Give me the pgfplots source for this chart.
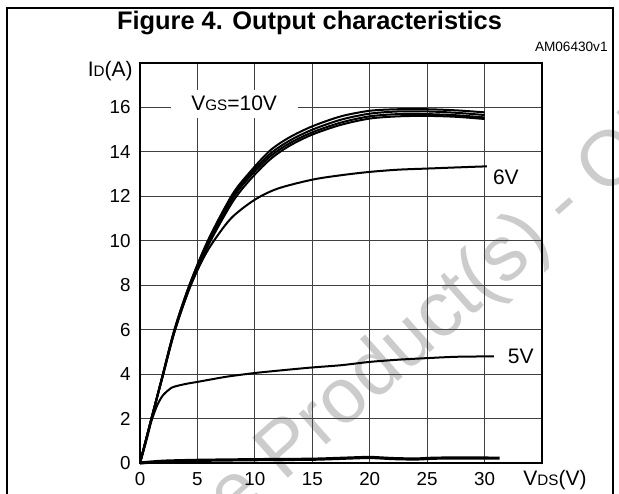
\documentclass[border=0pt]{standalone}
\usepackage{pgfplots}
\pgfplotsset{compat=1.18}
\usepackage{fontspec}
\setmainfont{Liberation Sans}
\newcommand\sub[1]{{\fontsize{7.6pt}{8pt}\selectfont #1}}
\begin{document}
\begin{tikzpicture}[x=1pt,y=1pt]
\useasboundingbox (0,0) rectangle (309.5,246.5);
% watermark
\begin{scope}
\clip (0,0) rectangle (309.5,246.5);
\node[rotate=41.5, anchor=base west, inner sep=0pt, text=black!20,
  font=\fontsize{39pt}{42pt}\selectfont] at (16.5,-105.6) {Obsolete Product(s) - Obsolete Product(s)};
\end{scope}
% frame
\draw[line width=1pt] (3.5,-2) -- (3.5,242.5) -- (306.5,242.5) -- (306.5,-2);
\node[anchor=base, inner sep=0pt, font=\fontsize{12.7pt}{14pt}\selectfont\bfseries] at (154.75,231.5) {Figure 4. Output characteristics};
\node[anchor=base east, inner sep=0pt, font=\fontsize{6.8pt}{8pt}\selectfont] at (304,220.5) {AM06430v1};
\begin{axis}[
  at={(70pt,15pt)}, anchor=south west,
  scale only axis, width=201pt, height=200pt,
  xmin=0, xmax=35, ymin=0, ymax=18,
  xtick={0,5,...,30}, ytick={0,2,...,16},
  grid=major,
  major grid style={black!75, line width=0.5pt},
  axis line style={line width=1.3pt},
  major tick length=0pt,
  tick label style={font=\fontsize{9.4pt}{10pt}\selectfont},
  /pgf/number format/assume math mode=true,
  xticklabel style={inner sep=0pt, anchor=north, yshift=-4.5pt},
  yticklabel style={inner sep=0pt, anchor=east, xshift=-4.5pt},
  clip=false,
]
% VGS = 10V
\addplot[black, line width=1pt, smooth] coordinates {
(0,0) (1,2.0) (2,4.0) (3,6.0) (4.3,8.0) (5.9,10.0) (8,12.05) (9.5,13.05) (11.3,14.05) (13,14.65) (15,15.15) (17.5,15.6) (20,15.85) (22.5,15.92) (25,15.92) (27.5,15.87) (30,15.78)};
% 9V
\addplot[black, line width=1pt, smooth] coordinates {
(0,0) (1,2.0) (2,4.0) (3,6.0) (4.3,8.0) (5.9,9.95) (8,11.95) (9.5,12.95) (11.3,13.9) (13,14.5) (15,15.0) (17.5,15.45) (20,15.72) (22.5,15.82) (25,15.82) (27.5,15.76) (30,15.66)};
% 8V
\addplot[black, line width=1pt, smooth] coordinates {
(0,0) (1,2.0) (2,3.95) (3,5.9) (4.3,7.9) (5.9,9.85) (8,11.85) (9.5,12.85) (11.3,13.78) (13,14.38) (15,14.88) (17.5,15.32) (20,15.6) (22.5,15.7) (25,15.7) (27.5,15.65) (30,15.55)};
% 7V
\addplot[black, line width=1pt, smooth] coordinates {
(0,0) (1,2.0) (2,3.95) (3,5.9) (4.3,7.85) (5.9,9.75) (8,11.7) (9.5,12.7) (11.3,13.65) (13,14.27) (15,14.78) (17.5,15.22) (20,15.5) (22.5,15.6) (25,15.62) (27.5,15.58) (30,15.48)};
% 6V
\addplot[black, line width=1pt, smooth] coordinates {
(0,0) (1,2.0) (2,4.0) (3,5.95) (4.3,7.85) (5.5,9.2) (6.5,10.05) (8,11.05) (10,11.85) (12,12.35) (15,12.75) (17.5,12.95) (20,13.1) (22.5,13.2) (25,13.25) (27.5,13.3) (30.2,13.35)};
% 5V
\addplot[black, line width=1pt, smooth, tension=0.4] coordinates {
(0,0) (0.5,0.9) (1,1.9) (1.5,2.6) (2,3.05) (2.8,3.4) (4,3.56) (5,3.65) (7.5,3.88) (10,4.05) (12.5,4.18) (15,4.3) (17.5,4.4) (20,4.55) (22.5,4.65) (25,4.72) (27.5,4.78) (30.8,4.8)};
% 4V
\addplot[black, line width=1.6pt, smooth, tension=0.4] coordinates {
(0,0) (2,0.08) (5,0.12) (10,0.15) (15,0.17) (18,0.22) (20,0.25) (22,0.2) (24,0.18) (26,0.22) (31.3,0.22)};
\node[fill=white, inner sep=0pt, minimum width=63.5pt, minimum height=14pt,
  font=\fontsize{10.5pt}{12pt}\selectfont] at (axis cs:8.2,16.17) {V\sub{GS}=10V};
\node[anchor=west, inner sep=0pt, font=\fontsize{10.5pt}{12pt}\selectfont] at (axis cs:30.7,12.87) {6V};
\node[anchor=west, inner sep=0pt, font=\fontsize{10.5pt}{12pt}\selectfont] at (axis cs:32.0,4.8) {5V};
\end{axis}
\node[anchor=base east, inner sep=0pt, font=\fontsize{10.5pt}{12pt}\selectfont] at (66.5,208) {I\sub{D}(A)};
\node[anchor=base west, inner sep=0pt, font=\fontsize{10.5pt}{12pt}\selectfont] at (261.5,4) {V\sub{DS}(V)};
\end{tikzpicture}
\end{document}
